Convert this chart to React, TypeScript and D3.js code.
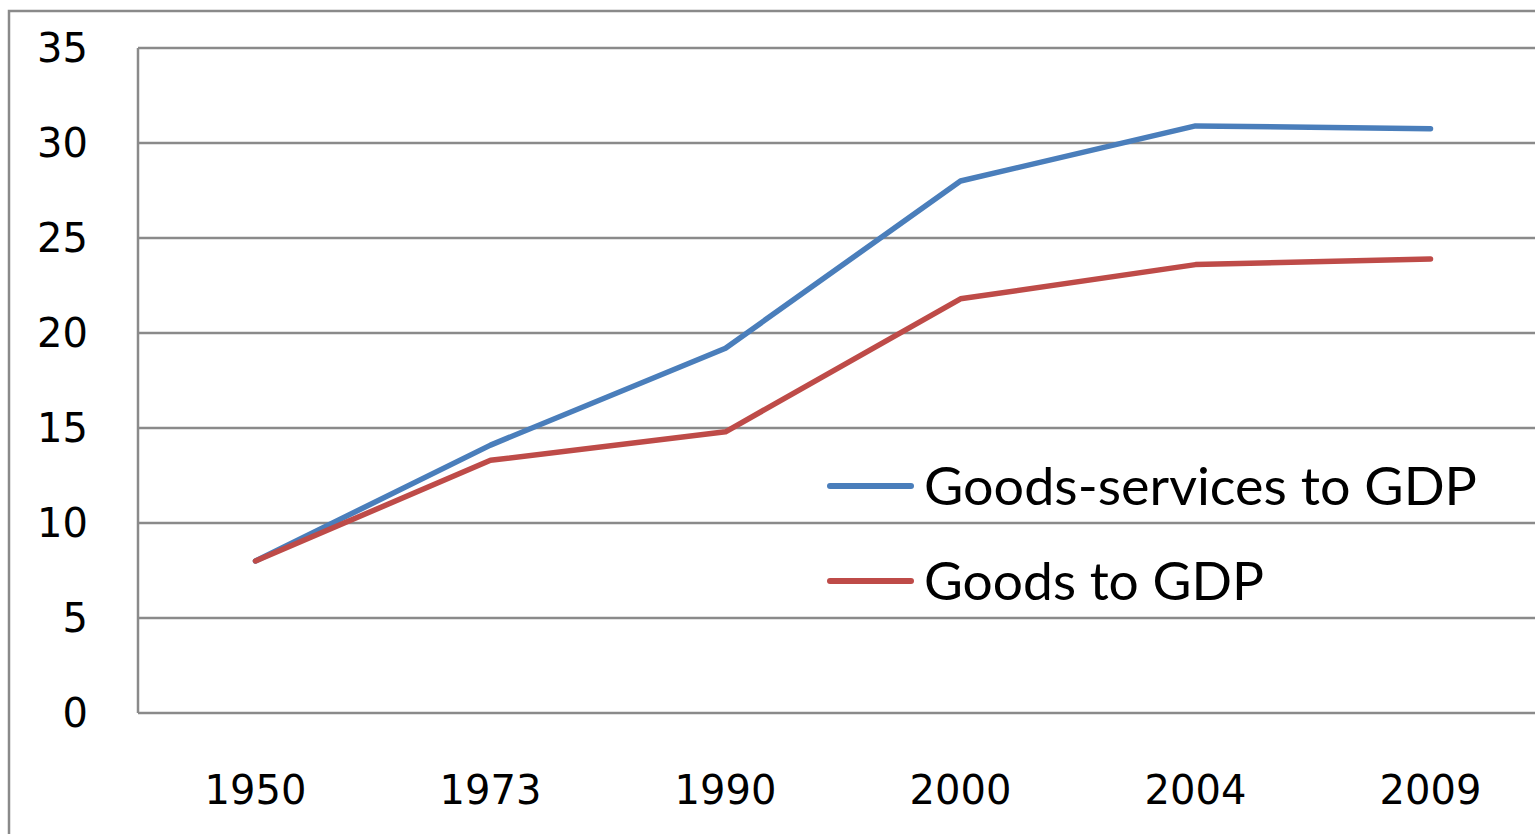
import React from "react";
import * as d3 from "d3";

const years = ["1950", "1973", "1990", "2000", "2004", "2009"];
const goodsServices = [8.0, 14.1, 19.2, 28.0, 30.9, 30.75];
const goods = [8.0, 13.3, 14.8, 21.8, 23.6, 23.9];
const yTicks = [0, 5, 10, 15, 20, 25, 30, 35];
const seriesNames = ["Goods-services to GDP", "Goods to GDP"];
const seriesColors = ["#4a7ebb", "#be4b48"];

const W = 1535;
const H = 834;
const plotLeft = 138;
const plotTop = 48;
const plotBottom = 713;
const band = 235;

export default function App() {
  const x = d3
    .scaleBand<string>()
    .domain(years)
    .range([plotLeft, plotLeft + band * years.length]);
  const y = d3.scaleLinear().domain([0, 35]).range([plotBottom, plotTop]);
  const line = d3
    .line<number>()
    .x((_, i) => (x(years[i]) as number) + x.bandwidth() / 2)
    .y((d) => y(d));
  const series = [goodsServices, goods];
  const grid = "#8a8a8a";
  const tickFont = "'DejaVu Sans', Verdana, sans-serif";

  return (
    <svg
      width={W}
      height={H}
      style={{ position: "absolute", left: 0, top: 0, background: "#fff" }}
    >
      <rect x={9} y={11} width={1700} height={1000} fill="none" stroke={grid} strokeWidth={2.5} />
      {yTicks.map((t) => (
        <g key={t}>
          <line x1={plotLeft} x2={W + 20} y1={y(t)} y2={y(t)} stroke={grid} strokeWidth={2.5} />
          <text
            x={88}
            y={y(t)}
            dy="0.36em"
            textAnchor="end"
            fontFamily={tickFont}
            fontSize={40}
            fill="#000"
          >
            {t}
          </text>
        </g>
      ))}
      <line x1={plotLeft} x2={plotLeft} y1={plotTop} y2={plotBottom} stroke={grid} strokeWidth={2.5} />
      {years.map((yr) => (
        <text
          key={yr}
          x={(x(yr) as number) + x.bandwidth() / 2}
          y={804}
          textAnchor="middle"
          fontFamily={tickFont}
          fontSize={40}
          fill="#000"
        >
          {yr}
        </text>
      ))}
      {series.map((s, i) => (
        <path
          key={i}
          d={line(s) || ""}
          fill="none"
          stroke={seriesColors[i]}
          strokeWidth={5.5}
          strokeLinecap="round"
          strokeLinejoin="round"
        />
      ))}
      {seriesNames.map((name, i) => {
        const ly = 486 + i * 95;
        return (
          <g key={name}>
            <line x1={830} x2={911} y1={ly} y2={ly} stroke={seriesColors[i]} strokeWidth={6} strokeLinecap="round" />
            <text
              x={924}
              y={ly + 19}
              fontFamily="Lato, 'Open Sans', sans-serif"
              fontSize={52}
              fill="#000"
              textLength={i === 0 ? 553 : 340}
              lengthAdjust="spacingAndGlyphs"
            >
              {name}
            </text>
          </g>
        );
      })}
    </svg>
  );
}
